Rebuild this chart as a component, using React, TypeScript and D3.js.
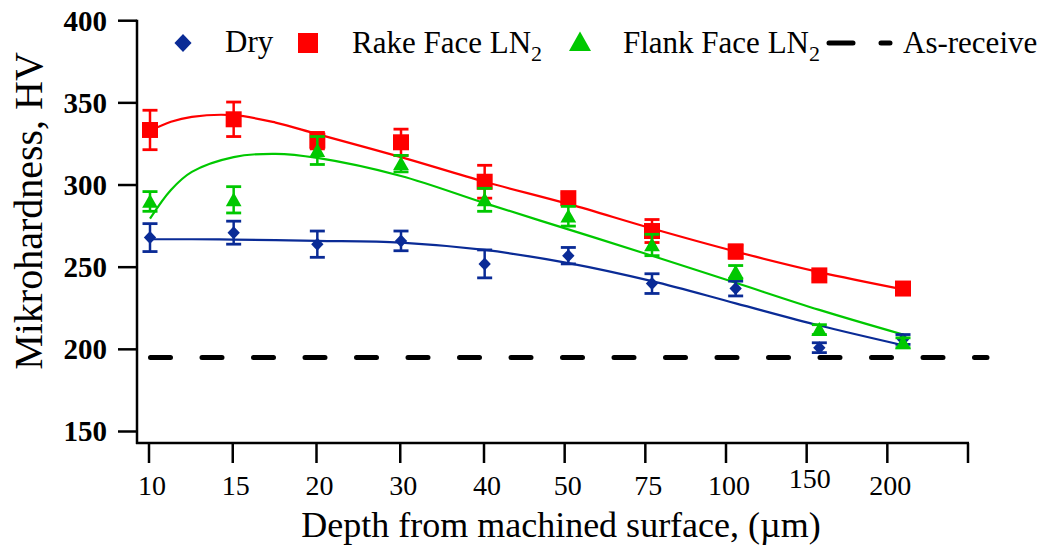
import { useEffect, useRef } from 'react';
import * as d3 from 'd3';

const depths = ['10', '15', '20', '30', '40', '50', '75', '100', '150', '200'];
const yTicks = [150, 200, 250, 300, 350, 400];

const dry = [268, 271, 264, 266, 252, 257, 240, 237, 201, 206];
const dryErr = [8.5, 7, 8, 6, 8.5, 5, 6, 4.5, 3, 3];
const rake = [333.5, 340, 327, 326, 302, 292, 272, 259.5, 245, 237];
const rakeErr = [12, 10.5, 5, 8, 10, 3, 7, 4, 2, 2];
const flank = [290, 291, 321, 313, 291, 281, 263.5, 247, 212, 204];
const flankErr = [6, 8, 8.5, 5, 7, 6, 6.5, 4, 3, 3];

// trend curves (position = category index)
const fitIdx = [0, 0.25, 0.5, 1, 1.5, 2, 3, 4, 5, 6, 7, 8, 9];
const dryFit = [267, 267, 267, 266.8, 266.5, 266, 265, 260.5, 252.5, 241.5, 228, 214.5, 202.5];
const rakeFit = [333, 338.5, 341.5, 342.5, 338, 331, 317, 302, 288.5, 273.5, 259.5, 247, 236.5];
const flankFit = [279.5, 297, 308, 317, 319, 316.5, 305.5, 289, 273, 257, 240.5, 224, 209];

const asReceived = 195;

const BLUE = '#0a2b96';
const RED = '#ff0000';
const GREEN = '#00c800';
const FONT = '"Liberation Serif", "Times New Roman", serif';

function diamondPath(r: number) {
  const w = r * 0.95;
  return `M0,${-r}L${w},0L0,${r}L${-w},0Z`;
}
function squarePath(h: number) {
  return `M${-h},${-h}H${h}V${h}H${-h}Z`;
}
function trianglePath(h: number) {
  return `M0,${-h}L${h * 1.05},${h * 0.85}L${-h * 1.05},${h * 0.85}Z`;
}

function App() {
  const svgRef = useRef<SVGSVGElement>(null);

  useEffect(() => {
    const svg = d3.select(svgRef.current);
    svg.selectAll('*').remove();

    const x = d3.scaleLinear().domain([0, depths.length - 1]).range([150, 903]);
    // the printed axis drifts a little from the points, as in the original
    const xTick = d3.scaleLinear().domain([0, 4, 10]).range([149, 484, 968]);
    const y = d3.scaleLinear().domain([143, 400]).range([443, 20.7]);

    const axisColor = '#000';

    // y axis
    svg.append('line')
      .attr('x1', 137).attr('x2', 137)
      .attr('y1', y(400) - 1).attr('y2', y(143) + 1)
      .attr('stroke', axisColor).attr('stroke-width', 2.5);
    yTicks.forEach((t) => {
      svg.append('line')
        .attr('x1', 118).attr('x2', 137)
        .attr('y1', y(t)).attr('y2', y(t))
        .attr('stroke', axisColor).attr('stroke-width', 2.5);
      svg.append('text')
        .attr('x', 107).attr('y', y(t) + 10)
        .attr('text-anchor', 'end')
        .attr('font-family', FONT).attr('font-size', 29).attr('font-weight', 'bold')
        .text(t);
    });

    // x axis
    svg.append('line')
      .attr('x1', 136).attr('x2', xTick(10) + 1)
      .attr('y1', y(143)).attr('y2', y(143))
      .attr('stroke', axisColor).attr('stroke-width', 2.5);
    d3.range(11).forEach((i) => {
      svg.append('line')
        .attr('x1', xTick(i)).attr('x2', xTick(i))
        .attr('y1', y(143)).attr('y2', y(143) + 20)
        .attr('stroke', axisColor).attr('stroke-width', 2.5);
      if (i < depths.length) {
        svg.append('text')
          .attr('x', xTick(i) + 3).attr('y', i === 8 ? 488 : 495)
          .attr('text-anchor', 'middle')
          .attr('font-family', FONT).attr('font-size', 28)
          .text(depths[i]);
      }
    });

    // axis titles
    svg.append('text')
      .attr('x', 561).attr('y', 537)
      .attr('text-anchor', 'middle')
      .attr('font-family', FONT).attr('font-size', 36)
      .text('Depth from machined surface, (µm)');
    svg.append('text')
      .attr('transform', 'translate(42,211) rotate(-90)')
      .attr('text-anchor', 'middle')
      .attr('font-family', FONT).attr('font-size', 40)
      .text('Mikrohardness, HV');

    // as-received reference line
    svg.append('line')
      .attr('x1', 150.5).attr('x2', 987)
      .attr('y1', y(asReceived)).attr('y2', y(asReceived))
      .attr('stroke', '#000').attr('stroke-width', 5)
      .attr('stroke-linecap', 'round')
      .attr('stroke-dasharray', '20,31.5');

    const fitLine = d3.line<number>()
      .x((_, i) => x(fitIdx[i]))
      .y((d) => y(d))
      .curve(d3.curveCatmullRom.alpha(0.5));

    const series = [
      { vals: dry, err: dryErr, fit: dryFit, color: BLUE, path: diamondPath(6.5) },
      { vals: rake, err: rakeErr, fit: rakeFit, color: RED, path: squarePath(8) },
      { vals: flank, err: flankErr, fit: flankFit, color: GREEN, path: trianglePath(7.5) },
    ];

    series.forEach((s) => {
      svg.append('path')
        .attr('d', fitLine(s.fit))
        .attr('fill', 'none')
        .attr('stroke', s.color).attr('stroke-width', 2.2);
    });

    series.forEach((s) => {
      const g = svg.append('g');
      s.vals.forEach((v, i) => {
        const cx = x(i);
        const top = y(v + s.err[i]);
        const bot = y(v - s.err[i]);
        g.append('line')
          .attr('x1', cx).attr('x2', cx).attr('y1', top).attr('y2', bot)
          .attr('stroke', s.color).attr('stroke-width', 2.5);
        [top, bot].forEach((yy) => {
          g.append('line')
            .attr('x1', cx - 7.5).attr('x2', cx + 7.5).attr('y1', yy).attr('y2', yy)
            .attr('stroke', s.color).attr('stroke-width', 2.8);
        });
        g.append('path')
          .attr('d', s.path)
          .attr('transform', `translate(${cx},${y(v)})`)
          .attr('fill', s.color);
      });
    });

    // legend
    const leg = svg.append('g').attr('font-family', FONT).attr('font-size', 31);
    leg.append('path').attr('d', diamondPath(9)).attr('transform', 'translate(183,43)').attr('fill', BLUE);
    leg.append('text').attr('x', 225).attr('y', 52).text('Dry');
    leg.append('path').attr('d', squarePath(10)).attr('transform', 'translate(308,43)').attr('fill', RED);
    const t1 = leg.append('text').attr('x', 352).attr('y', 53);
    t1.append('tspan').text('Rake Face LN');
    t1.append('tspan').attr('font-size', 22).attr('dy', 8).text('2');
    leg.append('path').attr('d', trianglePath(10.5)).attr('transform', 'translate(580,42)').attr('fill', GREEN);
    const t2 = leg.append('text').attr('x', 623).attr('y', 53);
    t2.append('tspan').text('Flank Face LN');
    t2.append('tspan').attr('font-size', 22).attr('dy', 8).text('2');
    leg.append('line')
      .attr('x1', 829).attr('x2', 890).attr('y1', 43).attr('y2', 43)
      .attr('stroke', '#000').attr('stroke-width', 5)
      .attr('stroke-linecap', 'round')
      .attr('stroke-dasharray', '24,28');
    leg.append('text').attr('x', 903).attr('y', 53).text('As-receive');
  }, []);

  return (
    <svg
      ref={svgRef}
      width={1044}
      height={547}
      style={{ position: 'absolute', left: 0, top: 0, background: '#fff' }}
    />
  );
}

export default App;
